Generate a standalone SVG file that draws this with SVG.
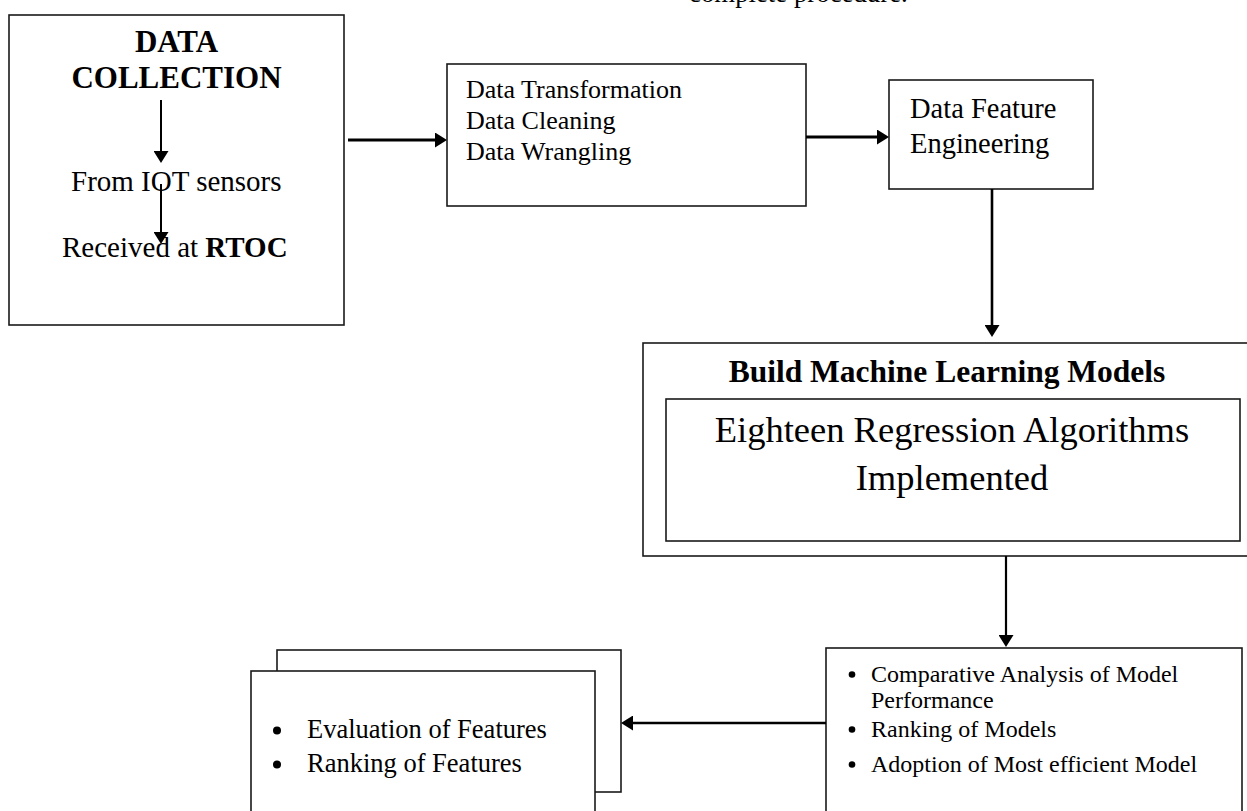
<svg xmlns="http://www.w3.org/2000/svg" width="1247" height="811" viewBox="0 0 1247 811">
<style>
  .box { fill: #fff; stroke: #1a1a1a; stroke-width: 1.6; }
  .t { font-family: "Liberation Serif", "Times New Roman", serif; fill: #000; }
  .b { font-weight: bold; }
  .mid { text-anchor: middle; }
  .conn { stroke: #000; fill: none; }
  .dot { fill: #000; }
</style>
<defs>
  <marker id="ah" markerUnits="userSpaceOnUse" markerWidth="14" markerHeight="15" refX="6" refY="7.5" orient="auto">
    <path d="M0,0 L12,7.5 L0,15 Z" fill="#000"/>
  </marker>
</defs>
<rect width="1247" height="811" fill="#fff"/>

<text id="caption" class="t" x="689" y="1.5" font-size="26.8">complete procedure.</text>

<g id="node-data-collection">
  <rect class="box" x="9" y="15" width="335" height="310"/>
  <text class="t b mid" x="176.5" y="52" font-size="31">DATA</text>
  <text class="t b mid" x="176.5" y="88" font-size="31">COLLECTION</text>
  <text class="t" x="71" y="191" font-size="29">From IOT sensors</text>
  <text class="t" x="62" y="257" font-size="29">Received at <tspan class="b">RTOC</tspan></text>
</g>

<g id="node-data-prep">
  <rect class="box" x="447" y="64" width="359" height="142"/>
  <text class="t" x="466" y="98" font-size="26">Data Transformation</text>
  <text class="t" x="466" y="129" font-size="26">Data Cleaning</text>
  <text class="t" x="466" y="160" font-size="26">Data Wrangling</text>
</g>

<g id="node-feature-eng">
  <rect class="box" x="889" y="80" width="204" height="109"/>
  <text class="t" x="910" y="118" font-size="28.5">Data Feature</text>
  <text class="t" x="910" y="153" font-size="28.5">Engineering</text>
</g>

<g id="node-build-models">
  <rect class="box" x="643" y="343" width="612" height="213"/>
  <text class="t b mid" x="947" y="382" font-size="31.5">Build Machine Learning Models</text>
  <rect class="box" x="666" y="399" width="574" height="142"/>
  <text class="t mid" x="952" y="442" font-size="36.5">Eighteen Regression Algorithms</text>
  <text class="t mid" x="952" y="490" font-size="36.5">Implemented</text>
</g>

<g id="node-model-analysis">
  <rect class="box" x="826" y="648" width="416" height="175"/>
  <circle class="dot" cx="852" cy="674.5" r="3.3"/>
  <text class="t" x="871" y="682" font-size="24">Comparative Analysis of Model</text>
  <text class="t" x="871" y="708" font-size="24">Performance</text>
  <circle class="dot" cx="852" cy="729.5" r="3.3"/>
  <text class="t" x="871" y="737" font-size="24">Ranking of Models</text>
  <circle class="dot" cx="852" cy="764.5" r="3.3"/>
  <text class="t" x="871" y="772" font-size="24">Adoption of Most efficient Model</text>
</g>

<g id="node-feature-eval">
  <rect class="box" x="277" y="650" width="344" height="142"/>
  <rect class="box" x="251" y="671" width="344" height="160"/>
  <circle class="dot" cx="277" cy="730.5" r="4"/>
  <text class="t" x="307" y="738" font-size="26.5">Evaluation of Features</text>
  <circle class="dot" cx="277" cy="764.5" r="4"/>
  <text class="t" x="307" y="772" font-size="26.5">Ranking of Features</text>
</g>

<g id="connectors">
  <line class="conn" x1="161" y1="100" x2="161" y2="157" stroke-width="2" marker-end="url(#ah)"/>
  <line class="conn" x1="161" y1="184" x2="161" y2="238" stroke-width="2" marker-end="url(#ah)"/>
  <line class="conn" x1="348" y1="140" x2="441" y2="140" stroke-width="3" marker-end="url(#ah)"/>
  <line class="conn" x1="806" y1="137" x2="883" y2="137" stroke-width="3" marker-end="url(#ah)"/>
  <line class="conn" x1="992" y1="189" x2="992" y2="331" stroke-width="2.6" marker-end="url(#ah)"/>
  <line class="conn" x1="1006" y1="556" x2="1006" y2="641" stroke-width="2.2" marker-end="url(#ah)"/>
  <line class="conn" x1="826" y1="723" x2="627" y2="723" stroke-width="2.6" marker-end="url(#ah)"/>
</g>
</svg>
